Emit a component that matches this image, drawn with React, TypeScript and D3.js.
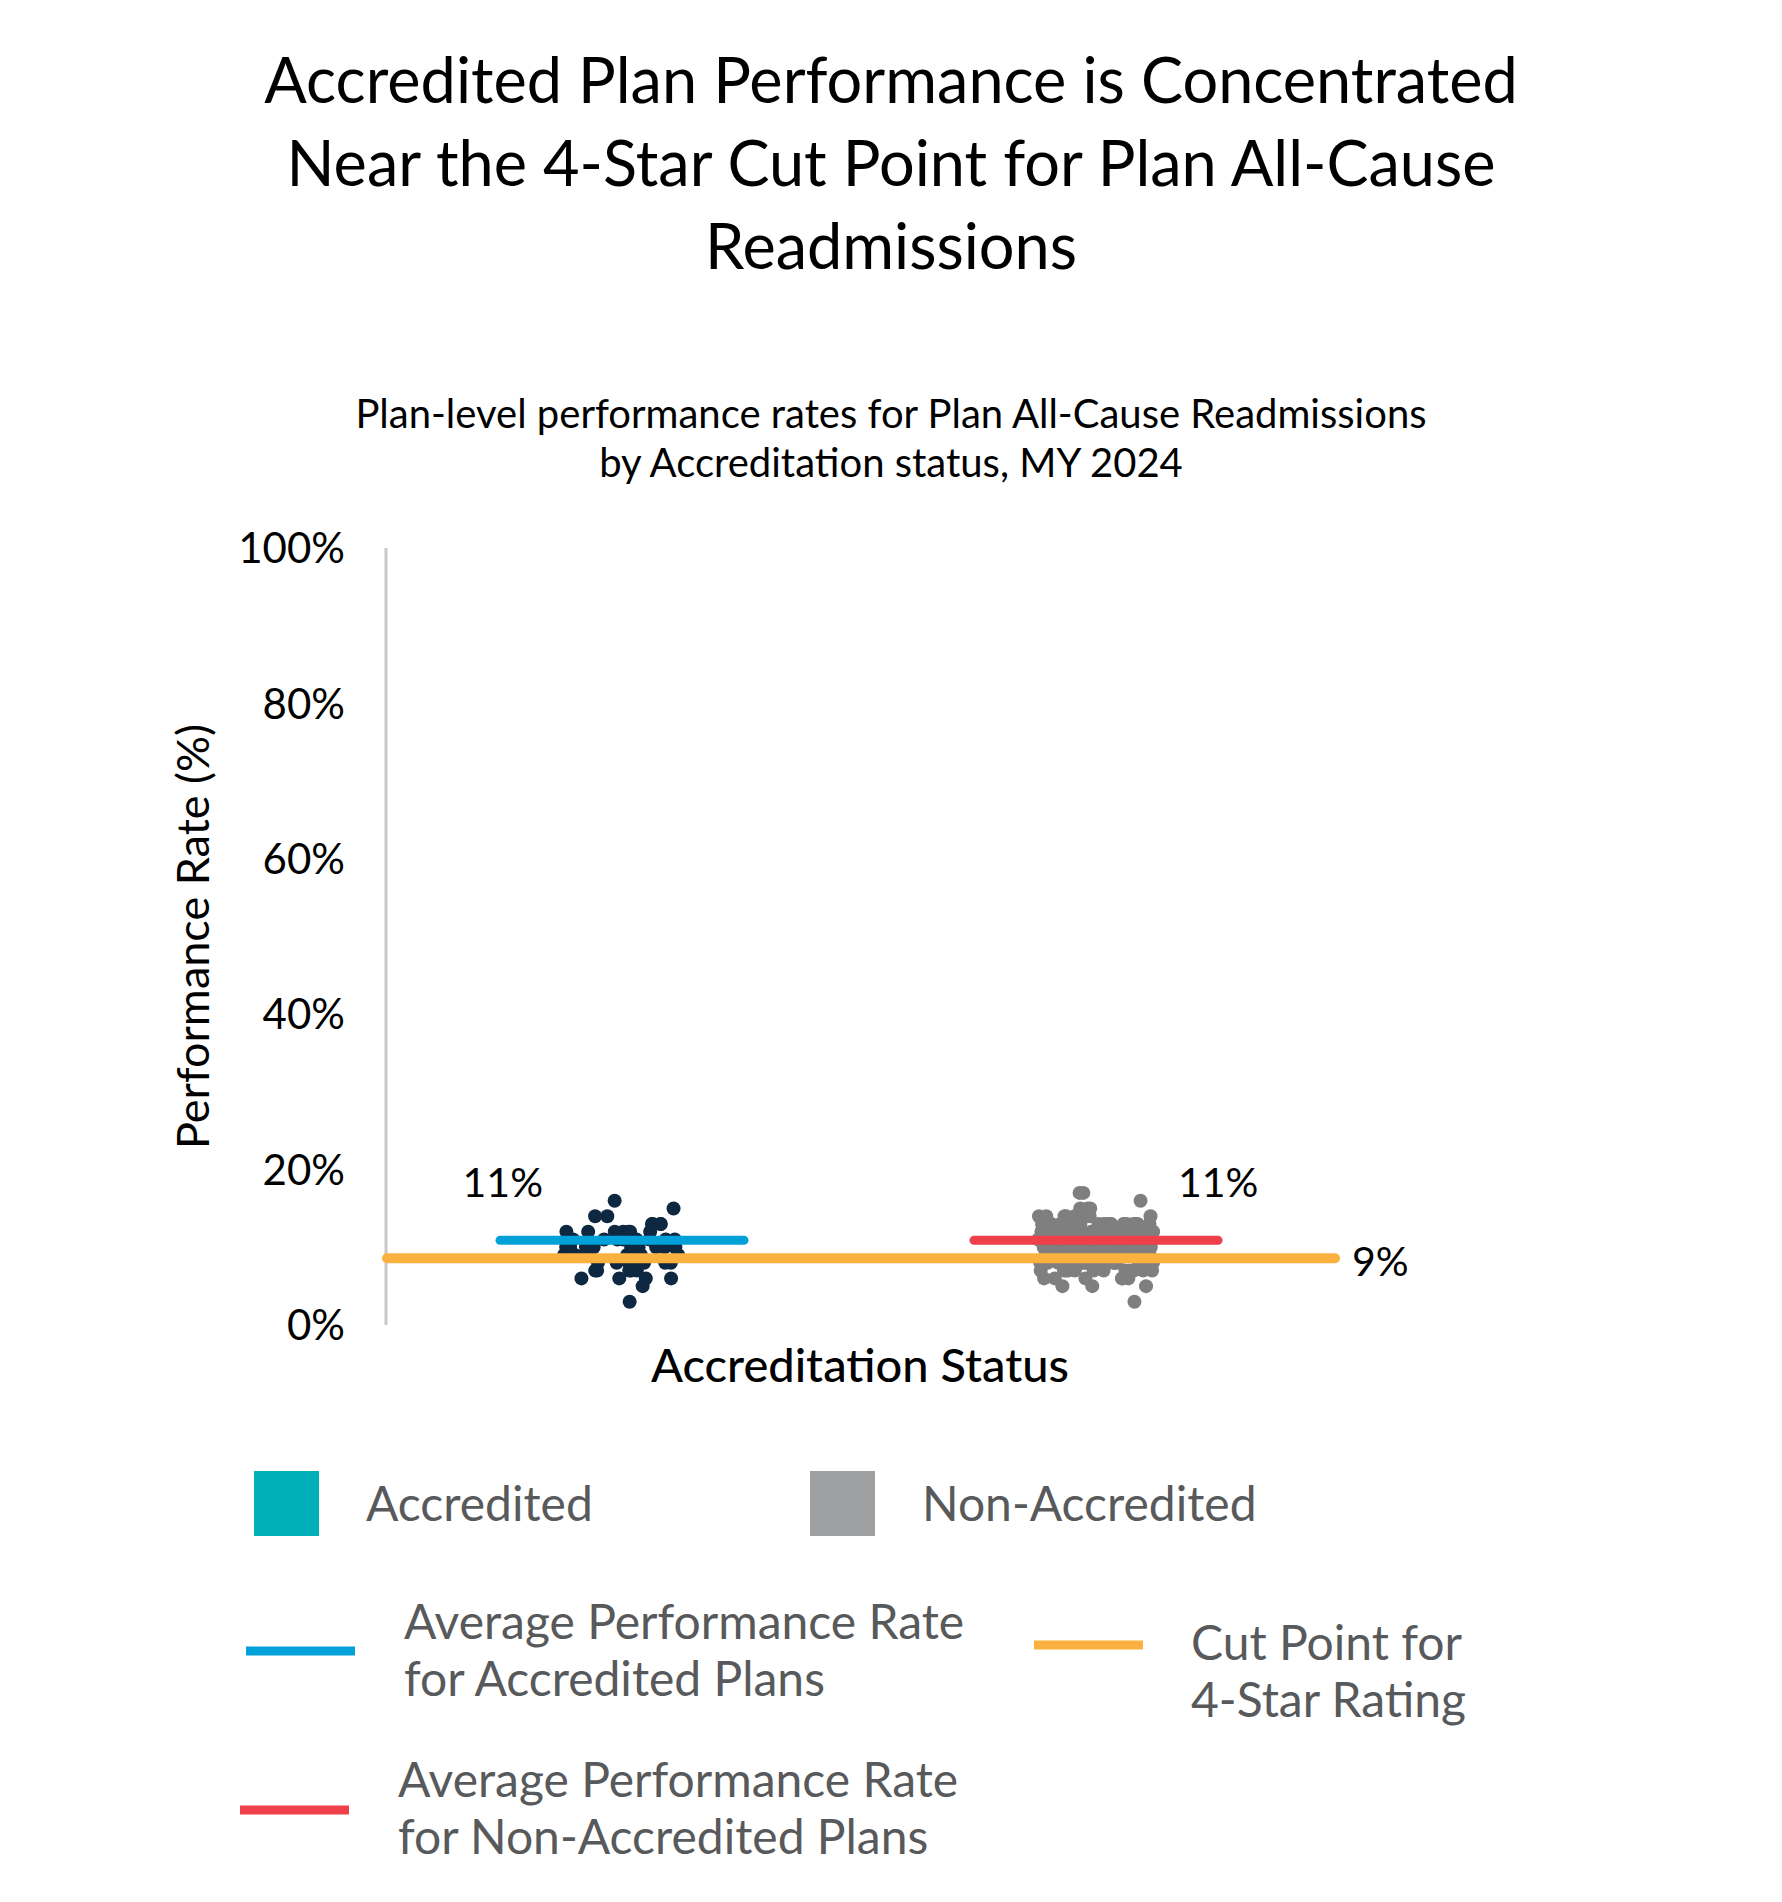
import React from 'react';
import * as d3 from 'd3';

const titleLines = [
  'Accredited Plan Performance is Concentrated',
  'Near the 4-Star Cut Point for Plan All-Cause',
  'Readmissions',
];
const subtitleLines = [
  'Plan-level performance rates for Plan All-Cause Readmissions',
  'by Accreditation status, MY 2024',
];
const categories = ['Accredited', 'Non-Accredited'];
// rate levels (%) and number of plans at each level
const rateLevels = [3, 4, 5, 6, 7, 8, 9, 10, 11, 12, 13, 14, 15, 16, 17];
const accreditedCounts = [1, 0, 1, 4, 5, 7, 8, 9, 8, 7, 4, 2, 1, 1, 0];
const nonAccreditedCounts = [1, 0, 3, 6, 12, 25, 35, 45, 45, 35, 20, 8, 3, 1, 2];
const averageRates = [10.9, 10.9];
const cutPoint = 8.6;
const yTicks = [0, 20, 40, 60, 80, 100];
const yTitle = 'Performance Rate (%)';
const xTitle = 'Accreditation Status';
const legendSwatchLabels = ['Accredited', 'Non-Accredited'];
const legendLineLabels = [
  ['Average Performance Rate', 'for Accredited Plans'],
  ['Cut Point for', '4-Star Rating'],
  ['Average Performance Rate', 'for Non-Accredited Plans'],
];

const dotColors = ['#0E2841', '#7F7F7F'];
const avgColors = ['#00A0D8', '#EE3F4B'];
const cutColor = '#FBB13F';
const swatchColors = ['#00B0B9', '#9D9FA0'];
const FONT = "Lato, 'Noto Sans', sans-serif";
const pct = (v: number) => `${Math.round(v)}%`;

export default function App() {
  const W = 1782;
  const H = 1902;
  const y = d3.scaleLinear().domain([0, 100]).range([1325, 548]);
  const x = d3.scaleBand<string>().domain(categories).range([385, 1333]);
  const cx = (c: string) => (x(c) as number) + x.bandwidth() / 2;

  const rng = d3.randomLcg(0.3172);
  const jitter = d3.randomUniform.source(rng)(-58, 58);
  const dots: { c: string; v: number; dx: number; ci: number }[] = [];
  [accreditedCounts, nonAccreditedCounts].forEach((counts, ci) => {
    counts.forEach((n, li) => {
      for (let k = 0; k < n; k++) {
        dots.push({ c: categories[ci], v: rateLevels[li], dx: jitter(), ci });
      }
    });
  });

  const avgHalf = 122;

  return (
    <div style={{ position: 'absolute', left: 0, top: 0 }}>
      <svg width={W} height={H} viewBox={`0 0 ${W} ${H}`} style={{ display: 'block', background: '#fff' }} fontFamily={FONT}>
        <rect x={0} y={0} width={W} height={H} fill="#fff" />
        {titleLines.map((t, i) => (
          <text key={t} x={891} y={103 + i * 83} textAnchor="middle" fontSize={63} fill="#000">
            {t}
          </text>
        ))}
        {subtitleLines.map((t, i) => (
          <text key={t} x={891} y={428 + i * 49} textAnchor="middle" fontSize={40} fill="#000">
            {t}
          </text>
        ))}

        {/* y axis */}
        <line x1={386} x2={386} y1={y(100)} y2={y(0)} stroke="#C8C8C8" strokeWidth={3} />
        {yTicks.map((t) => (
          <text key={t} x={345} y={y(t)} dy="0.36em" textAnchor="end" fontSize={42} fill="#000">
            {t}%
          </text>
        ))}
        <text transform={`translate(209, ${y(50)}) rotate(-90)`} textAnchor="middle" fontSize={45} fill="#000">
          {yTitle}
        </text>

        {/* dots */}
        {dots.map((d, i) => (
          <circle key={i} cx={cx(d.c) + d.dx} cy={y(d.v)} r={7} fill={dotColors[d.ci]} />
        ))}

        {/* cut point line */}
        <line x1={387} x2={1335} y1={y(cutPoint)} y2={y(cutPoint)} stroke={cutColor} strokeWidth={10} strokeLinecap="round" />
        <text x={1352} y={y(cutPoint)} dy="0.44em" fontSize={41} fill="#000">
          {pct(cutPoint)}
        </text>

        {/* average lines */}
        {categories.map((c, i) => (
          <line key={c} x1={cx(c) - avgHalf} x2={cx(c) + avgHalf} y1={y(averageRates[i])} y2={y(averageRates[i])} stroke={avgColors[i]} strokeWidth={9} strokeLinecap="round" />
        ))}
        <text x={cx(categories[0]) - 79} y={y(averageRates[0]) - 43} textAnchor="end" fontSize={41} fill="#000">
          {pct(averageRates[0])}
        </text>
        <text x={cx(categories[1]) + 82} y={y(averageRates[1]) - 43} textAnchor="start" fontSize={41} fill="#000">
          {pct(averageRates[1])}
        </text>

        <text x={860} y={1382} textAnchor="middle" fontSize={47} fontWeight={500} fill="#000">
          {xTitle}
        </text>

        {/* legend swatches */}
        {legendSwatchLabels.map((l, i) => (
          <g key={l} transform={`translate(${254 + i * 556}, 1471)`}>
            <rect width={65} height={65} fill={swatchColors[i]} />
            <text x={112} y={50} fontSize={48} fill="#58595B">
              {l}
            </text>
          </g>
        ))}

        {/* legend lines */}
        {[
          { x: 246, y: 1651, tx: 404, ty: 1639, color: avgColors[0], lines: legendLineLabels[0] },
          { x: 1034, y: 1645, tx: 1191, ty: 1660, color: cutColor, lines: legendLineLabels[1] },
          { x: 240, y: 1810, tx: 398, ty: 1797, color: avgColors[1], lines: legendLineLabels[2] },
        ].map((g, i) => (
          <g key={i}>
            <line x1={g.x} x2={g.x + 109} y1={g.y} y2={g.y} stroke={g.color} strokeWidth={9} />
            {g.lines.map((t, j) => (
              <text key={t} x={g.tx} y={g.ty + j * 57} fontSize={48} fill="#58595B">
                {t}
              </text>
            ))}
          </g>
        ))}
      </svg>
    </div>
  );
}
